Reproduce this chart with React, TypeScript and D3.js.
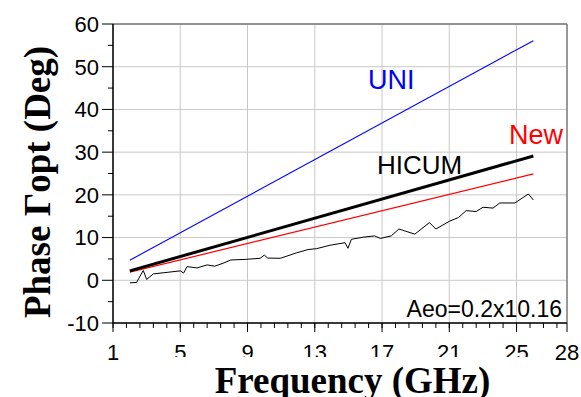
import React from "react";
import * as d3 from "d3";

const lineFreq = [2, 26];
const uniValues = [4.7, 56.1];
const hicumValues = [2.2, 29.1];
const newValues = [1.9, 24.9];

const measFreq = [2.0, 2.4, 2.8, 3.0, 3.4, 5.0, 5.2, 5.4, 6.0, 6.6, 7.05, 7.55, 8.0, 8.9, 9.75, 10.0, 10.2, 10.95, 11.9, 12.6, 13.1, 13.9, 14.8, 14.97, 15.18, 15.9, 16.55, 16.9, 17.55, 18.0, 18.95, 19.82, 20.2, 21.0, 21.55, 22.0, 22.6, 23.0, 23.6, 24.0, 24.9, 25.7, 26.0];
const measValues = [-0.6, -0.5, 2.3, 0.2, 1.5, 2.2, 1.7, 3.2, 2.9, 3.6, 3.3, 4.0, 4.75, 4.9, 5.15, 5.9, 5.2, 5.15, 6.4, 7.2, 7.4, 8.2, 8.8, 7.5, 9.6, 10.1, 10.4, 9.8, 10.4, 12.0, 10.8, 13.5, 12.0, 13.8, 14.7, 16.3, 16.1, 17.1, 16.9, 18.1, 18.1, 20.2, 18.8];

const xTickValues = [1, 5, 9, 13, 17, 21, 25, 28];
const xGridValues = [1, 5, 9, 13, 17, 21, 25];
const yTickValues = [-10, 0, 10, 20, 30, 40, 50, 60];

const W = 581, H = 397;
const L = 113, R = 567, T = 24, B = 323;

export default function App() {
  const x = d3.scaleLinear().domain([1, 28]).range([L, R]);
  const y = d3.scaleLinear().domain([-10, 60]).range([B, T]);
  const line = d3.line<[number, number]>().x(d => x(d[0])).y(d => y(d[1]));
  const mk = (f: number[], v: number[]) => line(f.map((ff, i) => [ff, v[i]] as [number, number])) || "";

  const xMinor: number[] = [];
  for (let v = 1; v < 28 - 0.01; v += 0.8) xMinor.push(+v.toFixed(2));
  const yMinor: number[] = [];
  for (let v = -5; v < 60; v += 10) yMinor.push(v);

  return (
    <svg width={W} height={H} style={{ position: "absolute", left: 0, top: 0, background: "#fff" }}>
      <rect x={0} y={0} width={W} height={H} fill="#fff" />
      {xGridValues.map(v => (
        <line key={"gx" + v} x1={x(v)} x2={x(v)} y1={T} y2={B} stroke="#c8c8c8" strokeWidth={1} />
      ))}
      {yTickValues.map(v => (
        <line key={"gy" + v} x1={L} x2={R} y1={y(v)} y2={y(v)} stroke="#c8c8c8" strokeWidth={1} />
      ))}
      <line x1={L} x2={R} y1={T} y2={T} stroke="#777" strokeWidth={1.5} />
      <line x1={R} x2={R} y1={T} y2={B} stroke="#777" strokeWidth={1.5} />

      <path d={mk(lineFreq, uniValues)} fill="none" stroke="#0000ff" strokeWidth={1.1} />
      <path d={mk(lineFreq, newValues)} fill="none" stroke="#ff0000" strokeWidth={1.2} />
      <path d={mk(lineFreq, hicumValues)} fill="none" stroke="#000" strokeWidth={3} />
      <path d={mk(measFreq, measValues)} fill="none" stroke="#000" strokeWidth={1} />

      <line x1={L} x2={L} y1={T} y2={B} stroke="#000" strokeWidth={1.5} />
      <line x1={L} x2={R} y1={B} y2={B} stroke="#000" strokeWidth={1.5} />

      {yTickValues.map(v => (
        <g key={"yt" + v}>
          <line x1={L - 11} x2={L} y1={y(v)} y2={y(v)} stroke="#000" strokeWidth={1} />
          <text x={99} y={y(v)} dy="0.36em" textAnchor="end" fontFamily="Arial, 'Liberation Sans', sans-serif" fontSize={22} fill="#000">{v}</text>
        </g>
      ))}
      {yMinor.map(v => (
        <line key={"ym" + v} x1={L - 5} x2={L} y1={y(v)} y2={y(v)} stroke="#000" strokeWidth={1} />
      ))}
      {xMinor.map(v => (
        <line key={"xm" + v} x1={x(v)} x2={x(v)} y1={B} y2={B + 5} stroke="#000" strokeWidth={1} />
      ))}
      {xTickValues.map(v => (
        <g key={"xt" + v}>
          <line x1={x(v)} x2={x(v)} y1={B} y2={B + 9} stroke="#000" strokeWidth={1} />
          <text x={x(v)} y={360} textAnchor="middle" fontFamily="Arial, 'Liberation Sans', sans-serif" fontSize={22} fill="#000">{v}</text>
        </g>
      ))}

      <rect x={140} y={357} width={405} height={40} fill="#fff" />
      <text x={352.5} y={392.7} textAnchor="middle" fontFamily="'Times New Roman', 'Liberation Serif', serif" fontWeight="bold" fontSize={37} fill="#000">Frequency (GHz)</text>
      <text transform="translate(50,182) rotate(-90)" textAnchor="middle" fontFamily="'Times New Roman', 'Liberation Serif', serif" fontWeight="bold" fontSize={37} fill="#000">Phase Γopt (Deg)</text>

      <text x={368} y={89} fontFamily="Arial, 'Liberation Sans', sans-serif" fontSize={27} fill="#0000ff">UNI</text>
      <text x={509} y={144.3} fontFamily="Arial, 'Liberation Sans', sans-serif" fontSize={27} fill="#ff0000">New</text>
      <text x={377} y={174} fontFamily="Arial, 'Liberation Sans', sans-serif" fontSize={26} fill="#000">HICUM</text>
      <text x={562} y={316.7} textAnchor="end" fontFamily="Arial, 'Liberation Sans', sans-serif" fontSize={23} fill="#000">Aeo=0.2x10.16</text>
    </svg>
  );
}
